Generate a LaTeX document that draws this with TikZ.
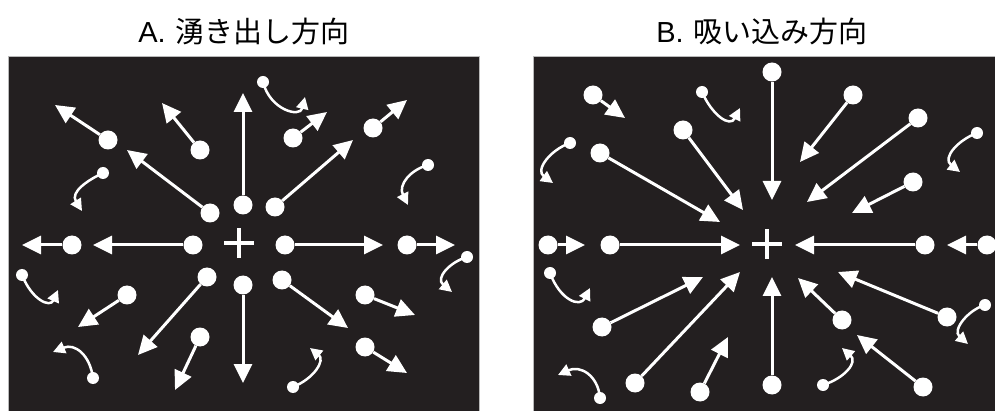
\documentclass[tikz,border=0pt]{standalone}
\usepackage{fontspec}
\setmainfont{Liberation Sans}
\newfontfamily\cjk{Noto Sans CJK JP}
\usetikzlibrary{arrows.meta}
\definecolor{panelbg}{HTML}{231F20}
\begin{document}
\begin{tikzpicture}[x=1pt,y=-1pt,
  panel/.style={fill=panelbg,draw=gray!55,line width=1pt},
  title/.style={font=\fontsize{29}{31}\selectfont,text=black,inner sep=0pt},
  bigdot/.style={circle,fill=white,inner sep=0pt,minimum size=19pt},
  smalldot/.style={circle,fill=white,inner sep=0pt,minimum size=12pt},
  arr/.style={draw=white,line width=3pt,-{Triangle[length=19pt,width=18pt]}},
  carr/.style={draw=white,line width=2.5pt,line cap=round,-{Triangle[length=12pt,width=12pt]}},
  plusbar/.style={draw=white,line width=4pt}]
\useasboundingbox (0,0) rectangle (995,411);
\fill[white] (0,0) rectangle (995,411);
% titles
\node[title] (ta) at (244,31) {A.\hspace{10pt}{\cjk 湧き出し方向}};
\node[title] (tb) at (762,31) {B.\hspace{10pt}{\cjk 吸い込み方向}};
% panels
\node[panel,inner sep=0pt,minimum width=471pt,minimum height=356pt,anchor=north west] (pa) at (8,56) {};
\node[panel,inner sep=0pt,minimum width=463pt,minimum height=356pt,anchor=north west] (pb) at (533,56) {};
% plus signs
\coordinate (pA) at (239,243);
\coordinate (pB) at (767,244);
\draw[plusbar] ([xshift=-15pt]pA) -- ([xshift=15pt]pA);
\draw[plusbar] ([yshift=-15pt]pA) -- ([yshift=15pt]pA);
\draw[plusbar] ([xshift=-15pt]pB) -- ([xshift=15pt]pB);
\draw[plusbar] ([yshift=-15pt]pB) -- ([yshift=15pt]pB);
% straight arrows: name / dot / tip
\foreach \n/\dx/\dy/\tx/\ty in {
  a1/108/140/55/105, a2/200/150/162/103, a3/210/213/127/150, a4/243/205/243/93,
  a5/293/138/327/112, a6/373/128/407/100, a7/275/207/353/140,
  a8/72/245/22/245, a9/193/245/93/245, a10/285/245/383/245, a11/407/245/455/245,
  a12/127/295/78/327, a13/207/277/138/355, a14/200/337/175/390, a15/243/285/243/383,
  a16/282/280/348/328, a17/365/295/415/315, a18/365/347/407/373,
  b1/593/95/625/118, b2/600/153/720/222, b3/683/130/743/210, b4/772/72/772/200,
  b5/853/95/800/162, b6/918/118/807/202, b7/913/182/852/213,
  b8/548/245/585/245, b9/610/245/740/245, b10/925/245/795/245, b11/987/245/947/245,
  b12/602/327/703/277, b13/635/383/740/272, b14/700/392/728/337, b15/772/385/772/277,
  b16/842/320/798/278, b17/947/317/838/272, b18/923/387/857/335}{
  \node[bigdot] (\n) at (\dx,\dy) {};
  \coordinate (\n t) at (\tx,\ty);
  \draw[arr] (\n) -- (\n t);
}
% curly arrows: name / dot / control1 / control2 / tip
\foreach \n/\dx/\dy/\ax/\ay/\bx/\by/\tx/\ty in {
  c1/103/173/88/180/70/192/82/211,
  c2/263/82/270/110/300/118/305/97,
  c3/428/165/410/170/398/185/408/205,
  c4/22/275/32/300/50/308/58/290,
  c5/93/378/90/355/75/343/53/352,
  c6/467/257/450/262/435/278/452/292,
  c7/293/387/315/378/325/360/310/348,
  d1/702/92/712/115/730/128/740/108,
  d2/570/143/550/150/535/170/553/183,
  d3/977/133/958/140/942/158/960/172,
  d4/550/273/560/300/580/308/590/288,
  d5/600/398/598/375/580/365/558/375,
  d6/823/385/845/378/858/362/842/348,
  d7/985/305/968/310/952/330/968/344}{
  \node[smalldot] (\n) at (\dx,\dy) {};
  \coordinate (\n t) at (\tx,\ty);
  \draw[carr] (\n.center) .. controls (\ax,\ay) and (\bx,\by) .. (\n t);
}
\end{tikzpicture}
\end{document}
